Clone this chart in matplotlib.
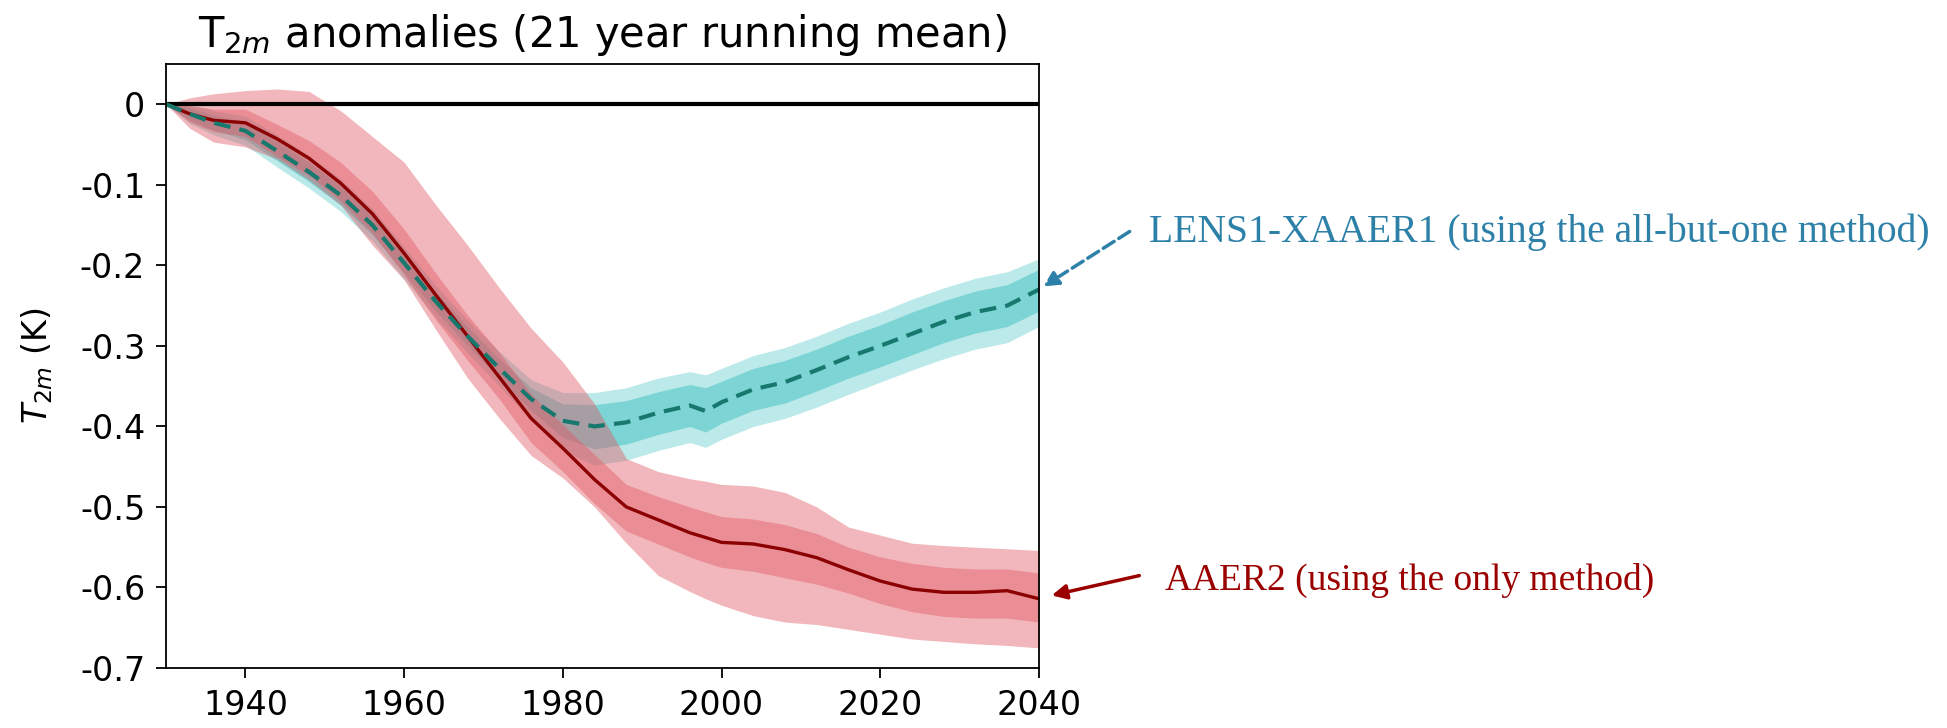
import numpy as np
import matplotlib.pyplot as plt

# 21-year running mean of T2m anomalies (K)
years = [1930, 1933, 1936, 1940, 1944, 1948, 1952, 1956, 1960, 1964, 1968,
         1972, 1976, 1980, 1984, 1988, 1992, 1996, 1998, 2000, 2004, 2008,
         2012, 2016, 2020, 2024, 2028, 2032, 2036, 2040]

# AAER2 ("only" method): mean, inner spread and outer spread
aaer_mean = [0.0, -0.012, -0.020, -0.023, -0.043, -0.067, -0.098, -0.136, -0.185, -0.237, -0.288,
             -0.339, -0.390, -0.427, -0.466, -0.500, -0.516, -0.532, -0.538, -0.544, -0.546, -0.553,
             -0.563, -0.578, -0.592, -0.602, -0.606, -0.606, -0.604, -0.614]
aaer_in_hi = [0.0, -0.002, -0.006, -0.006, -0.025, -0.045, -0.072, -0.108, -0.155, -0.210, -0.262,
              -0.308, -0.360, -0.398, -0.435, -0.472, -0.487, -0.500, -0.506, -0.512, -0.515, -0.522,
              -0.533, -0.550, -0.562, -0.570, -0.575, -0.577, -0.577, -0.582]
aaer_in_lo = [0.0, -0.022, -0.034, -0.040, -0.065, -0.088, -0.120, -0.160, -0.212, -0.268, -0.318,
              -0.366, -0.420, -0.456, -0.496, -0.530, -0.546, -0.562, -0.569, -0.575, -0.580, -0.588,
              -0.596, -0.607, -0.620, -0.630, -0.636, -0.638, -0.638, -0.643]
aaer_out_hi = [0.0, 0.008, 0.013, 0.017, 0.019, 0.016, -0.008, -0.040, -0.072, -0.125, -0.175,
               -0.228, -0.278, -0.320, -0.372, -0.440, -0.456, -0.465, -0.468, -0.472, -0.474, -0.482,
               -0.500, -0.525, -0.535, -0.545, -0.548, -0.550, -0.552, -0.554]
aaer_out_lo = [0.0, -0.030, -0.047, -0.053, -0.068, -0.094, -0.125, -0.175, -0.218, -0.280, -0.340,
               -0.390, -0.436, -0.464, -0.500, -0.545, -0.585, -0.605, -0.614, -0.622, -0.635, -0.643,
               -0.646, -0.652, -0.658, -0.664, -0.667, -0.670, -0.672, -0.675]

# LENS1 - XAAER1 ("all-but-one" method)
lens_mean = [0.0, -0.012, -0.023, -0.033, -0.058, -0.084, -0.113, -0.150, -0.197, -0.245, -0.288,
             -0.328, -0.366, -0.393, -0.400, -0.395, -0.383, -0.374, -0.381, -0.370, -0.354, -0.345,
             -0.330, -0.314, -0.300, -0.285, -0.270, -0.258, -0.250, -0.230]
lens_in_hi = [0.0, -0.004, -0.014, -0.022, -0.046, -0.072, -0.101, -0.138, -0.185, -0.233, -0.276,
              -0.316, -0.352, -0.372, -0.373, -0.368, -0.357, -0.348, -0.352, -0.344, -0.328, -0.318,
              -0.304, -0.288, -0.274, -0.258, -0.244, -0.232, -0.224, -0.205]
lens_in_lo = [0.0, -0.020, -0.032, -0.044, -0.070, -0.096, -0.125, -0.162, -0.209, -0.257, -0.300,
              -0.340, -0.380, -0.414, -0.428, -0.422, -0.410, -0.400, -0.407, -0.396, -0.380, -0.371,
              -0.356, -0.340, -0.326, -0.311, -0.296, -0.284, -0.276, -0.257]
lens_out_hi = [0.0, 0.000, -0.008, -0.015, -0.038, -0.064, -0.093, -0.130, -0.177, -0.225, -0.268,
               -0.307, -0.342, -0.358, -0.358, -0.352, -0.340, -0.332, -0.336, -0.328, -0.312, -0.302,
               -0.288, -0.272, -0.258, -0.242, -0.228, -0.216, -0.208, -0.192]
lens_out_lo = [0.0, -0.024, -0.038, -0.051, -0.078, -0.104, -0.133, -0.170, -0.217, -0.265, -0.309,
               -0.350, -0.392, -0.430, -0.448, -0.442, -0.430, -0.420, -0.426, -0.416, -0.400, -0.390,
               -0.376, -0.360, -0.345, -0.330, -0.316, -0.304, -0.296, -0.276]

xticks = [1940, 1960, 1980, 2000, 2020, 2040]
yticks = [0, -0.1, -0.2, -0.3, -0.4, -0.5, -0.6, -0.7]
ytick_labels = ['0', '-0.1', '-0.2', '-0.3', '-0.4', '-0.5', '-0.6', '-0.7']

lens_label = 'LENS1-XAAER1 (using the all-but-one method)'
aaer_label = 'AAER2 (using the only method)'


def main():
    x = np.array(years)

    fig = plt.figure(figsize=(19.47, 7.28), dpi=100)
    ax = fig.add_axes([0.0853, 0.0824, 0.4483, 0.8297])

    # spread bands: lens first so the aaer shading sits on top
    ax.fill_between(x, lens_out_lo, lens_out_hi, color='#40c0c0', alpha=0.35, lw=0)
    ax.fill_between(x, lens_in_lo, lens_in_hi, color='#40c0c0', alpha=0.5, lw=0)
    ax.fill_between(x, aaer_out_lo, aaer_out_hi, color='#e05560', alpha=0.42, lw=0)
    ax.fill_between(x, aaer_in_lo, aaer_in_hi, color='#e05560', alpha=0.42, lw=0)

    ax.axhline(0, color='black', lw=3)
    ax.plot(x, aaer_mean, color='#8b0000', lw=2.4)
    ax.plot(x, lens_mean, color='#17786e', lw=3, ls=(0, (4, 2.2)))

    ax.set_xlim(1930, 2040)
    ax.set_ylim(-0.7, 0.05)
    ax.set_xticks(xticks)
    ax.set_yticks(yticks)
    ax.set_yticklabels(ytick_labels)
    ax.tick_params(labelsize=24, length=7, width=1.3, pad=8)
    for s in ax.spines.values():
        s.set_linewidth(1.3)

    ax.set_title('T$_{2m}$ anomalies (21 year running mean)', fontsize=30, pad=12)
    ax.set_ylabel('$T_{2m}$ (K)', fontsize=24, labelpad=18)

    # side notes with arrows pointing at the line ends
    blue = '#2d80a8'
    red = '#9b0000'
    ax.annotate('', xy=(1041, 440), xycoords='figure pixels',
                xytext=(1132, 498), textcoords='figure pixels',
                arrowprops=dict(arrowstyle='-|>', color=blue, lw=2.5, ls='--',
                                mutation_scale=22))
    ax.annotate('', xy=(1049, 132), xycoords='figure pixels',
                xytext=(1142, 153), textcoords='figure pixels',
                arrowprops=dict(arrowstyle='-|>', color=red, lw=2.5,
                                mutation_scale=22))
    fig.text(1149 / 1947, 1 - 232 / 728, lens_label, color=blue, fontsize=28.5,
             family='Liberation Serif', va='center', ha='left')
    fig.text(1165 / 1947, 1 - 580 / 728, aaer_label, color=red, fontsize=27,
             family='Liberation Serif', va='center', ha='left')

    fig.savefig('out.png', dpi=100)


if __name__ == '__main__':
    main()
